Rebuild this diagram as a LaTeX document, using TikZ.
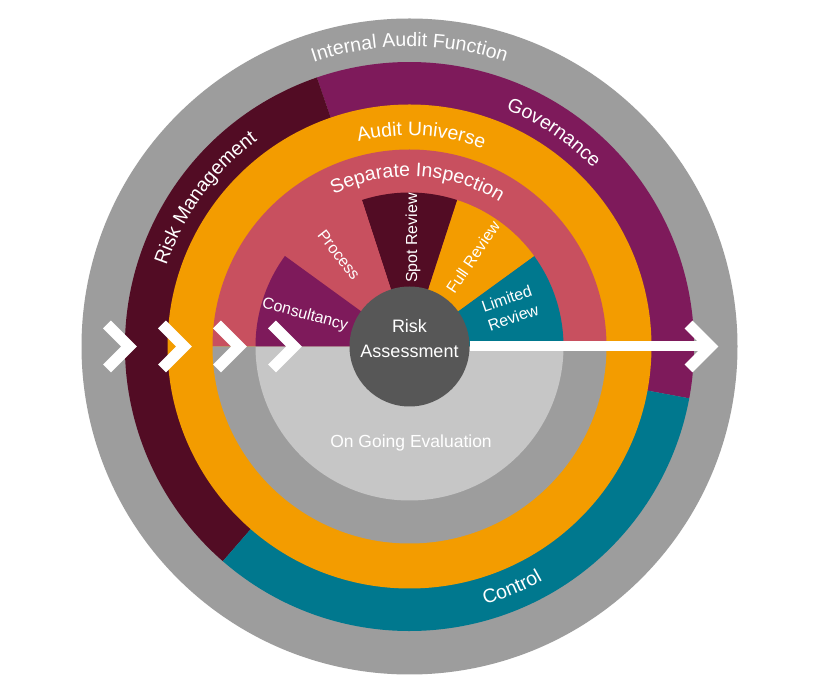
\documentclass[tikz,border=0pt]{standalone}
\usepackage{fontspec}
\setmainfont{Liberation Sans}
\usetikzlibrary{decorations.text}
\definecolor{ringgray}{HTML}{9D9D9D}
\definecolor{evalgray}{HTML}{C6C6C6}
\definecolor{hubgray}{HTML}{575757}
\definecolor{riskmg}{HTML}{520C24}
\definecolor{gov}{HTML}{7E1A5B}
\definecolor{ctrl}{HTML}{00788E}
\definecolor{audit}{HTML}{F39C00}
\definecolor{insp}{HTML}{C8505F}
\newcommand\ringfont{\fontsize{19.5}{22}\selectfont\color{white}}
\begin{document}
\begin{tikzpicture}[
  x=1pt, y=1pt,
  chevron/.style={draw=white, line width=11, line join=miter},
  flow/.style={draw=white, line width=10},
  hub/.style={circle, fill=hubgray, minimum size=120, inner sep=0},
  lbl/.style={text=white, inner sep=0, align=center, font=\fontsize{16}{20}\selectfont},
  ringtext/.style={decorate, decoration={text along path, text align=center, text={|\ringfont|#1}}}
]
\fill[white] (0,0) rectangle (820,699);
\useasboundingbox (0,0) rectangle (820,699);
\coordinate (c) at (409.5,352.5);
\coordinate (tip) at (710.5,352.5);

\fill[ringgray] (c) circle[radius=328pt];
\fill[gov] (c) -- ([shift={(c)}]-10.5:284.5pt) arc[start angle=-10.5, end angle=109, radius=284.5pt] -- cycle;
\fill[riskmg] (c) -- ([shift={(c)}]109:284.5pt) arc[start angle=109, end angle=229, radius=284.5pt] -- cycle;
\fill[ctrl] (c) -- ([shift={(c)}]229:284.5pt) arc[start angle=229, end angle=349.5, radius=284.5pt] -- cycle;
\fill[audit] (c) circle[radius=242pt];
\fill[insp] (c) -- ([shift={(c)}]0:197pt) arc[start angle=0, end angle=180, radius=197pt] -- cycle;
\fill[ringgray] (c) -- ([shift={(c)}]180:197pt) arc[start angle=180, end angle=360, radius=197pt] -- cycle;
\fill[evalgray] (c) -- ([shift={(c)}]180:154pt) arc[start angle=180, end angle=360, radius=154pt] -- cycle;
\foreach \a/\col in {0/ctrl, 36/audit, 72/riskmg, 108/insp, 144/gov}
  \fill[\col] (c) -- ([shift={(c)}]\a:154pt) arc[start angle=\a, end angle=\a+36, radius=154pt] -- cycle;

\node[hub] (risk) at (c) {};
\draw[flow] (risk.east) -- (tip);
\foreach \x in {107,162,217,272,688.5}
  \draw[chevron] (\x,374.5) -- ++(22,-22) -- ++(-22,-22);

\node[lbl, font=\fontsize{18}{25}\selectfont] (risktxt) at ([yshift=7.5]c) {Risk\\Assessment};
\node[lbl, font=\fontsize{17.5}{20}\selectfont] (eval) at (411,256) {On Going Evaluation};
\node[lbl, rotate=-15] (consult) at (305,384) {Consultancy};
\node[lbl, rotate=-52] (process) at (339,444) {Process};
\node[lbl, rotate=90] (spot) at (413,461) {Spot Review};
\node[lbl, rotate=56] (full) at (473,442) {Full Review};
\node[lbl, rotate=19] (limited) at (510,391) {Limited\\Review};

\path[ringtext=Internal Audit Function] ([shift={(c)}]130:300pt) arc[start angle=130, end angle=50, radius=300pt];
\path[ringtext=Audit Universe] ([shift={(c)}]126.8:211pt) arc[start angle=126.8, end angle=46.8, radius=211pt];
\path[ringtext=Separate Inspection] ([shift={(c)}]132.2:170pt) arc[start angle=132.2, end angle=42.2, radius=170pt];
\path[ringtext=Governance] ([shift={(c)}]96:256pt) arc[start angle=96, end angle=16, radius=256pt];
\path[ringtext=Risk Management] ([shift={(c)}]184:256pt) arc[start angle=184, end angle=104, radius=256pt];
\path[ringtext=Control] ([shift={(c)}]-107:269pt) arc[start angle=-107, end angle=-27, radius=269pt];
\end{tikzpicture}
\end{document}
